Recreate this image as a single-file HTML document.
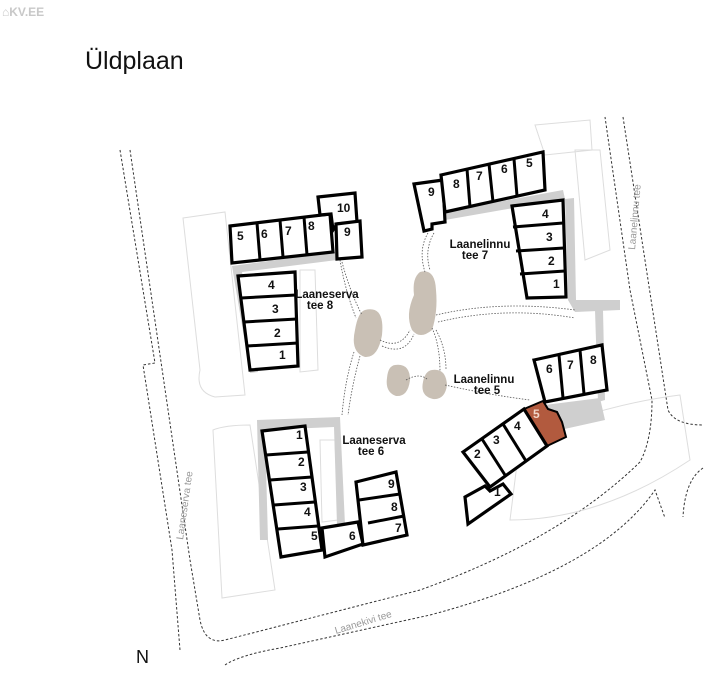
<!DOCTYPE html>
<html><head><meta charset="utf-8"><style>
html,body{margin:0;padding:0;background:#fff;}
svg{display:block;}
text{font-family:"Liberation Sans",Arial,sans-serif;}
.u{fill:#fff;stroke:#000;stroke-width:3.2;stroke-linejoin:miter;}
.n{font-weight:bold;font-size:12px;fill:#111;}
.lb{font-weight:bold;font-size:11.5px;fill:#111;text-anchor:middle;}
.rd{fill:none;stroke:#333;stroke-width:1;stroke-dasharray:2.5,2;}
.pk{fill:none;stroke:#ddd;stroke-width:1;}
.g{fill:#cfcfcf;}
.pond{fill:#c9c0b5;}
.pth{fill:none;stroke:#555;stroke-width:0.8;stroke-dasharray:1.5,1.5;}
</style></head><body>
<svg width="720" height="675" viewBox="0 0 720 675" xmlns="http://www.w3.org/2000/svg">
<text x="2" y="16" font-size="12" font-weight="bold" fill="#c8c8c8">⌂KV.EE</text>
<text x="85" y="69" font-size="25" fill="#111">Üldplaan</text>

<!-- roads -->
<path class="rd" d="M120,150 L155,363 L143,365 L172,550 L180,650"/>
<path class="rd" d="M130,150 L190,560 L200,620 Q205,645 225,640 L420,590 Q560,540 640,462 Q652,440 652,400 L630,290 L605,117"/>
<path class="rd" d="M623,117 L668,410 Q675,425 703,425"/>
<path class="rd" d="M225,665 Q240,655 280,648 L430,615 Q600,570 655,490 L665,518"/>
<path class="rd" d="M703,468 Q685,480 683,517"/>
<text x="0" y="0" font-size="10" fill="#999" transform="translate(183,540) rotate(-82)">Laaneserva tee</text>
<text x="0" y="0" font-size="10" fill="#999" transform="translate(635,250) rotate(-85)">Laanelinnu tee</text>
<text x="0" y="0" font-size="10" fill="#999" transform="translate(336,634) rotate(-17)">Laanekivi tee</text>
<text x="136" y="663" font-size="18" fill="#111">N</text>

<!-- parking outlines -->
<path class="pk" d="M183,218 L225,212 L245,395 L215,397 Q195,392 200,370 Z"/>
<path class="pk" d="M213,430 Q225,425 250,425 L275,590 L222,598 Z"/>
<path class="pk" d="M575,150 L600,150 L610,250 L585,260 Z"/>
<path class="pk" d="M520,440 Q600,405 680,395 L690,460 Q600,520 510,520 Z"/>
<path class="pk" d="M535,125 L590,120 L592,150 L545,155 Z"/>
<path class="pk" d="M300,270 L315,270 L318,370 L300,372 Z"/>
<path class="pk" d="M320,440 L335,440 L338,520 L322,522 Z"/>

<!-- gray walkways -->
<path class="g" d="M232,266 L335,252 L337,260 L242,272 L258,372 L250,373 Z"/>
<path class="g" d="M443,212 L563,190 L565,199 L445,220 Z"/>
<path class="g" d="M565,199 L574,198 L576,300 L620,300 L620,310 L575,312 L568,300 Z"/>
<path class="g" d="M595,310 L603,310 L605,400 L598,402 Z"/>
<path class="g" d="M257,420 L340,417 L345,525 L337,525 L334,427 L265,430 L268,540 L260,540 Z"/>
<path class="g" d="M545,405 L600,398 L605,420 L560,430 Z"/>

<!-- ponds -->
<path class="pond" d="M365,310 Q385,305 382,335 Q378,358 365,357 Q350,352 355,330 Q358,312 365,310 Z"/>
<path class="pond" d="M420,272 Q435,268 436,290 Q438,312 432,330 Q420,340 412,330 Q405,315 414,295 Q412,278 420,272 Z"/>
<path class="pond" d="M395,365 Q410,363 410,380 Q408,397 396,396 Q385,392 387,378 Q388,366 395,365 Z"/>
<path class="pond" d="M432,370 Q446,368 447,385 Q445,400 433,399 Q420,396 423,382 Q425,371 432,370 Z"/>
<!-- paths -->
<path class="pth" d="M340,260 Q345,290 356,318 M342,262 Q350,292 362,315"/>
<path class="pth" d="M354,352 Q345,380 342,415 M360,356 Q352,385 348,415"/>
<path class="pth" d="M380,340 Q400,350 410,330 M382,346 Q405,356 414,334"/>
<path class="pth" d="M432,328 Q440,345 440,372 M436,330 Q446,348 446,370"/>
<path class="pth" d="M436,315 Q500,300 575,310 M438,322 Q505,306 575,318"/>
<path class="pth" d="M428,233 Q418,250 425,272 M434,233 Q424,250 430,270"/>
<path class="pth" d="M406,380 Q420,372 428,380"/>
<path class="pth" d="M445,385 Q490,395 530,400"/>

<!-- NW block -->
<polygon class="u" points="230,226 330,214 333,252 232,263"/>
<line x1="257" y1="223" x2="260" y2="260" stroke="#000" stroke-width="3"/>
<line x1="280" y1="220" x2="283" y2="257" stroke="#000" stroke-width="3"/>
<line x1="304" y1="217" x2="307" y2="255" stroke="#000" stroke-width="3"/>
<polygon class="u" points="318,197 355,193 357,222 337,224 333,230 331,214 320,215"/>
<polygon class="u" points="336,224 360,221 362,257 337,259"/>
<text class="n" x="237" y="240">5</text><text class="n" x="261" y="238">6</text><text class="n" x="285" y="235">7</text><text class="n" x="308" y="230">8</text>
<text class="n" x="337" y="212">10</text><text class="n" x="344" y="236">9</text>
<polygon class="u" points="238,276 295,272 298,366 250,370"/>
<line x1="241" y1="298" x2="296" y2="295" stroke="#000" stroke-width="3"/>
<line x1="244" y1="322" x2="297" y2="319" stroke="#000" stroke-width="3"/>
<line x1="247" y1="346" x2="298" y2="343" stroke="#000" stroke-width="3"/>
<text class="n" x="268" y="289">4</text><text class="n" x="272" y="313">3</text><text class="n" x="274" y="337">2</text><text class="n" x="279" y="359">1</text>
<text class="lb" x="327" y="298">Laaneserva</text><text class="lb" x="320" y="309">tee 8</text>

<!-- NE block -->
<polygon class="u" points="414,184 443,180 445,222 432,224 432,229 424,231"/>
<polygon class="u" points="441,175 543,152 545,190 445,212"/>
<line x1="467" y1="169" x2="470" y2="207" stroke="#000" stroke-width="3"/>
<line x1="489" y1="164" x2="493" y2="202" stroke="#000" stroke-width="3"/>
<line x1="514" y1="159" x2="517" y2="196" stroke="#000" stroke-width="3"/>
<text class="n" x="428" y="196">9</text><text class="n" x="453" y="188">8</text><text class="n" x="476" y="180">7</text><text class="n" x="501" y="173">6</text><text class="n" x="526" y="167">5</text>
<polygon class="u" points="512,206 563,200 566,297 527,298"/>
<line x1="513" y1="227" x2="563" y2="223" stroke="#000" stroke-width="3"/>
<line x1="516" y1="251" x2="564" y2="248" stroke="#000" stroke-width="3"/>
<line x1="520" y1="274" x2="565" y2="271" stroke="#000" stroke-width="3"/>
<text class="n" x="542" y="218">4</text><text class="n" x="546" y="241">3</text><text class="n" x="548" y="265">2</text><text class="n" x="553" y="288">1</text>
<text class="lb" x="480" y="248">Laanelinnu</text><text class="lb" x="475" y="259">tee 7</text>

<!-- SE block -->
<polygon class="u" points="534,360 602,345 607,390 545,402"/>
<line x1="559" y1="355" x2="563" y2="398" stroke="#000" stroke-width="3"/>
<line x1="580" y1="350" x2="584" y2="394" stroke="#000" stroke-width="3"/>
<text class="n" x="546" y="373">6</text><text class="n" x="567" y="369">7</text><text class="n" x="590" y="364">8</text>
<polygon points="524,409 543,401 548,409 557,412 562,422 566,437 547,446" fill="#b25a3e" stroke="#000" stroke-width="2"/>
<text class="n" x="533" y="418" style="fill:#f1d7c9">5</text>
<polygon class="u" points="463,452 524,409 547,446 490,487"/>
<line x1="482" y1="439" x2="505" y2="475" stroke="#000" stroke-width="3"/>
<line x1="503" y1="424" x2="526" y2="461" stroke="#000" stroke-width="3"/>
<text class="n" x="474" y="458">2</text><text class="n" x="493" y="444">3</text><text class="n" x="514" y="430">4</text>
<polygon class="u" points="465,497 485,486 490,491 503,484 511,494 468,524"/>
<text class="n" x="494" y="496">1</text>
<text class="lb" x="484" y="383">Laanelinnu</text><text class="lb" x="487" y="394">tee 5</text>

<!-- SW block -->
<polygon class="u" points="262,431 305,426 322,550 281,557"/>
<line x1="266" y1="455" x2="308" y2="452" stroke="#000" stroke-width="3"/>
<line x1="270" y1="480" x2="312" y2="477" stroke="#000" stroke-width="3"/>
<line x1="274" y1="505" x2="315" y2="502" stroke="#000" stroke-width="3"/>
<line x1="278" y1="529" x2="318" y2="526" stroke="#000" stroke-width="3"/>
<text class="n" x="296" y="439">1</text><text class="n" x="298" y="466">2</text><text class="n" x="300" y="491">3</text><text class="n" x="304" y="516">4</text><text class="n" x="311" y="540">5</text>
<polygon class="u" points="322,528 358,522 363,544 325,557"/>
<line x1="363" y1="522" x2="363" y2="545" stroke="#000" stroke-width="3"/>
<text class="n" x="349" y="540">6</text>
<polygon class="u" points="356,482 396,472 407,535 363,545"/>
<line x1="359" y1="500" x2="400" y2="494" stroke="#000" stroke-width="3"/>
<line x1="368" y1="523" x2="404" y2="516" stroke="#000" stroke-width="3"/>
<text class="n" x="388" y="488">9</text><text class="n" x="391" y="511">8</text><text class="n" x="395" y="532">7</text>
<text class="lb" x="374" y="444">Laaneserva</text><text class="lb" x="371" y="455">tee 6</text>
</svg>
</body></html>
